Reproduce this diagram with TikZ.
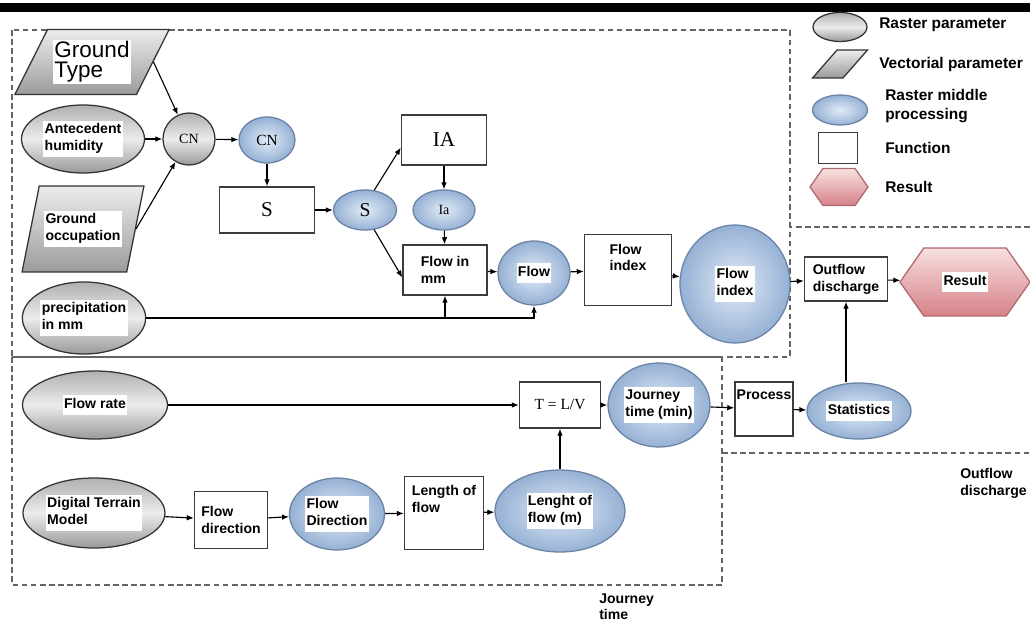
\documentclass[tikz,border=0pt]{standalone}
\usepackage{fontspec}
\setmainfont{Liberation Serif}
\setsansfont{Liberation Sans}
\usetikzlibrary{shapes.geometric,shapes.symbols,arrows.meta}

\definecolor{bluelt}{RGB}{226,235,247}
\definecolor{bluedk}{RGB}{150,177,212}
\definecolor{blueln}{RGB}{105,130,165}
\definecolor{pinklt}{RGB}{248,224,224}
\definecolor{pinkdk}{RGB}{214,130,136}
\definecolor{pinkln}{RGB}{175,105,110}
\definecolor{boxgray}{RGB}{60,60,60}
\definecolor{dashgray}{RGB}{100,100,100}

% text on a white patch, as in the scanned chart
\newcommand{\wt}[1]{{\setlength{\fboxsep}{1pt}\colorbox{white}{\begin{tabular}{@{}l@{}}#1\end{tabular}}}}

\begin{document}
\begin{tikzpicture}[x=0.025cm, y=-0.025cm, line width=0.8pt, >={Latex[length=5pt,width=4pt]},
    sz/.style 2 args={minimum width=#1*0.025cm, minimum height=#2*0.025cm},
    lab/.style={font=\sffamily\bfseries\fontsize{10}{12}\selectfont},
    leg/.style={font=\sffamily\bfseries\fontsize{11}{13}\selectfont},
    ser/.style={font=\rmfamily\fontsize{#1}{#1}\selectfont},
    rast/.style={ellipse, draw=gray!40!black, line width=0.9pt, top color=gray!62, bottom color=gray!80, middle color=gray!15, inner sep=0pt, lab},
    vect/.style={trapezium, trapezium stretches, trapezium left angle=#1, trapezium right angle=180-#1, draw=gray!40!black, line width=0.9pt, top color=gray!15, bottom color=gray!78, inner sep=1pt, lab},
    mid/.style={ellipse, draw=blueln, line width=0.9pt, inner color=bluelt, outer color=bluedk, inner sep=0pt, lab},
    func/.style={rectangle, draw=boxgray, fill=white, line width=1pt, inner sep=2pt, align=left, lab},
    res/.style={signal, signal to=east and west, signal pointer angle=110, draw=pinkln, line width=0.9pt, top color=pinklt, bottom color=pinkdk, inner sep=1pt, lab},
    grp/.style={draw=dashgray, line width=0.9pt, dash pattern=on 4pt off 2.5pt}]

    \useasboundingbox (0,0) rectangle (1030,622);
    \fill[black] (0,3) rectangle (1030,12);

    % groups
    \draw[grp] (12,30) rectangle (790,357);
    \draw[grp] (12,357) rectangle (722,585);
    \draw[grp] (1030,227) -- (790,227);
    \draw[grp] (722,453) -- (1030,453);
    \node[lab, anchor=north west, align=left, font=\sffamily\bfseries\fontsize{10}{11}\selectfont] (jlab) at (594,589) {Journey\\time};
    \node[lab, anchor=north west, align=left] (olab) at (955,463) {Outflow\\discharge};

    % legend
    \node[rast, sz={54}{29}] (lg1) at (840,27) {};
    \node[vect=59, sz={55}{28}] (lg2) at (840,64) {\strut};
    \node[mid, sz={55}{30}] (lg3) at (840,110) {};
    \node[func, sz={39}{31}] (lg4) at (838,148) {};
    \node[res, sz={58}{37}] (lg5) at (839,187) {\strut};
    \node[leg, anchor=west] (lt1) at (874,25) {Raster parameter};
    \node[leg, anchor=west] (lt2) at (874,65) {Vectorial parameter};
    \node[leg, anchor=west, align=left] (lt3) at (880,106) {Raster middle\\processing};
    \node[leg, anchor=west] (lt4) at (880,148) {Function};
    \node[leg, anchor=west] (lt5) at (880,187) {Result};

    % runoff
    \node[vect=58, sz={155}{65}] (gtype) at (92,62) {\wt{\fontsize{16}{18}\selectfont\mdseries Ground\\\fontsize{16}{18}\selectfont\mdseries Type}};
    \node[rast, sz={123}{68}] (ante) at (83,139) {\wt{Antecedent\\humidity}};
    \node[vect=68, sz={122}{86}] (gocc) at (83,229) {\wt{Ground\\occupation}};
    \node[rast, sz={123}{72}] (precip) at (84,318) {\wt{precipitation\\in mm}};
    \node[rast, sz={52}{52}, ser=10] (cnr) at (189,139) {CN};
    \node[mid, sz={56}{46}, ser=11] (cnb) at (267,140) {CN};
    \node[func, sz={95}{46}, ser=15] (sbox) at (267,210) {S};
    \node[mid, sz={63}{40}, ser=14] (sb) at (365,210) {S};
    \node[func, sz={85}{50}, ser=15] (iabox) at (444,140) {IA};
    \node[mid, sz={62}{40}, ser=10] (iae) at (444,210) {Ia};
    \node[func, sz={84}{50}] (fmm) at (445,270) {Flow in\\mm};
    \node[mid, sz={72}{64}] (flow) at (534,273) {\wt{Flow}};
    \node[func, sz={87}{71}, text depth=18pt] (fidx) at (628,270) {Flow\\index};
    \node[mid, sz={110}{118}] (fidxc) at (735,284) {\wt{Flow\\index}};
    \node[func, sz={83}{44}] (outd) at (846,279) {Outflow\\discharge};
    \node[res, sz={130}{68}] (result) at (965,282) {\wt{Result}};

    \draw[->] (gtype.east) -- (cnr);
    \draw[->] (ante) -- (cnr);
    \draw[->] (gocc.east) -- (cnr);
    \draw[->] (cnr) -- (cnb);
    \draw[->] (cnb) -- (sbox);
    \draw[->] (sbox) -- (sb);
    \draw[->] (sb.65) -- (iabox.190);
    \draw[->] (sb.-65) -- (fmm.190);
    \draw[->] (iabox) -- (iae);
    \draw[->] (iae) -- (fmm);
    \draw[->] (precip.east) -| (flow.south);
    \draw[->] (precip.east -| fmm.south) -- (fmm.south);
    \draw[->] (fmm) -- (flow);
    \draw[->] (flow) -- (fidx);
    \draw[->] (fidx) -- (fidxc);
    \draw[->] (fidxc) -- (outd);
    \draw[->] (outd) -- (result);

    % journey time
    \node[rast, sz={145}{68}] (frate) at (95,405) {\wt{Flow rate}};
    \node[func, sz={81}{46}, ser=11] (tlv) at (560,405) {T = L/V};
    \node[mid, sz={102}{84}] (jtime) at (659,405) {\wt{Journey\\time (min)}};
    \node[func, sz={58}{54}, inner sep=0.5pt, text depth=20pt] (proc) at (764,409) {Process};
    \node[mid, sz={104}{56}] (stat) at (859,411) {\wt{Statistics}};
    \node[rast, sz={142}{70}] (dtm) at (94,513) {\wt{Digital Terrain\\Model}};
    \node[func, sz={73}{57}] (fdir) at (231,520) {Flow\\direction};
    \node[mid, sz={95}{72}] (fdire) at (337,514) {\wt{Flow\\Direction}};
    \node[func, sz={79}{73}, text depth=20pt] (lof) at (444,513) {Length of\\flow};
    \node[mid, sz={130}{82}] (lofe) at (560,511) {\wt{Lenght of\\flow (m)}};

    \draw[->] (frate) -- (tlv);
    \draw[->] (tlv) -- (jtime);
    \draw[->] (jtime) -- (proc);
    \draw[->] (proc) -- (stat);
    \draw[->] (outd.south |- stat.north) -- (outd.south);
    \draw[->] (dtm) -- (fdir);
    \draw[->] (fdir) -- (fdire);
    \draw[->] (fdire) -- (lof);
    \draw[->] (lof) -- (lofe);
    \draw[->] (lofe) -- (tlv);
\end{tikzpicture}
\end{document}
